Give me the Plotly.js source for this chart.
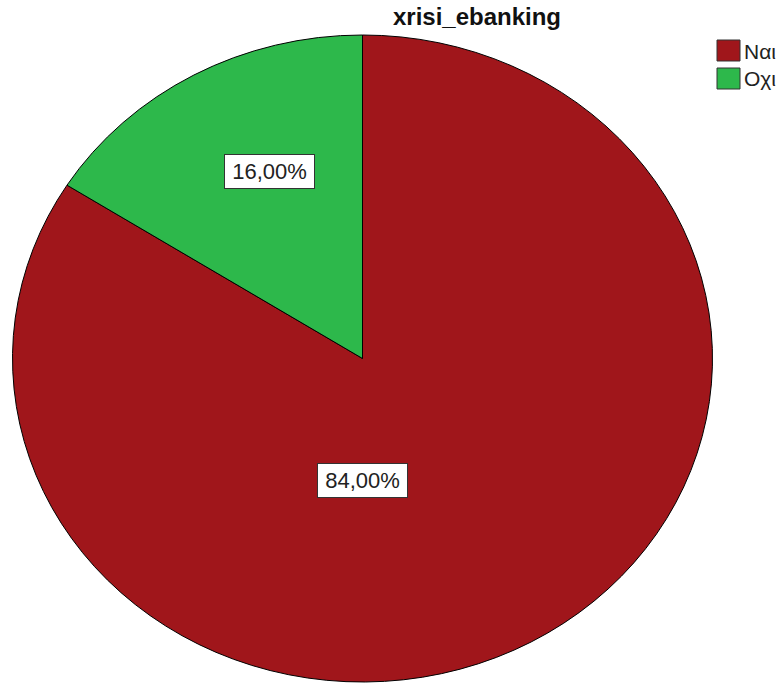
<!DOCTYPE html>
<html>
<head>
<meta charset="utf-8">
<script src="https://cdn.plot.ly/plotly-3.0.1.min.js"></script>
<style>html,body{margin:0;padding:0;background:#fff;}#chart{width:781px;height:684px;}</style>
</head>
<body>
<div id="chart"></div>
<script>
// ---- data ----
const title = 'xrisi_ebanking';
const labels = ['Ναι', 'Οχι'];
const percents = [84.00, 16.00];
const colors = ['#A0161B', '#2DB84B'];

// ---- helpers (layout positions in pixels -> paper) ----
const W = 781, H = 684;
const px = x => x / W;
const py = y => 1 - y / H;

const fmt = v => v.toFixed(2).replace('.', ',') + '%';

// ellipse geometry of the reference pie
const CX = 362.5, CY = 358.5, RX = 350, RY = 323.5;

const data = [{
  type: 'pie',
  labels: labels,
  values: percents,
  sort: false,
  direction: 'clockwise',
  rotation: 0,
  textinfo: 'none',
  hoverinfo: 'none',
  showlegend: false,
  marker: { colors: colors, line: { color: '#000000', width: 1 } },
  domain: { x: [px(CX - RY), px(CX + RY)], y: [py(CY + RY), py(CY - RY)] }
}];

const labelPos = [[362, 480], [269, 171]];
const annotations = labels.map((l, i) => ({
  xref: 'paper', yref: 'paper',
  x: px(labelPos[i][0]), y: py(labelPos[i][1]),
  xanchor: 'center', yanchor: 'middle',
  text: fmt(percents[i]), showarrow: false,
  font: { family: 'Liberation Sans, Arial, sans-serif', size: 22, color: '#222' },
  bgcolor: '#ffffff', bordercolor: '#333333', borderwidth: 1,
  width: 89, height: 33, borderpad: 0
}));

// legend built from labels/colors
const legTop = [40, 68];
const shapes = [];
labels.forEach((l, i) => {
  shapes.push({
    type: 'rect', xref: 'paper', yref: 'paper',
    x0: px(717), x1: px(740), y0: py(legTop[i]), y1: py(legTop[i] + 21),
    fillcolor: colors[i], line: { color: '#333333', width: 1 }
  });
  annotations.push({
    xref: 'paper', yref: 'paper', x: px(742), y: py(legTop[i] + 11),
    xanchor: 'left', yanchor: 'middle', text: l, showarrow: false,
    font: { family: 'Liberation Sans, Arial, sans-serif', size: 21, color: '#222' }
  });
});

const layout = {
  width: W, height: H,
  margin: { l: 0, r: 0, t: 0, b: 0 },
  paper_bgcolor: '#ffffff',
  showlegend: false,
  title: {
    text: '<b>' + title + '</b>',
    x: px(477), xanchor: 'center', xref: 'paper',
    y: py(17), yanchor: 'middle', yref: 'container',
    font: { family: 'Liberation Sans, Arial, sans-serif', size: 24, color: '#111' }
  },
  shapes: shapes,
  annotations: annotations
};

const gd = document.getElementById('chart');
Plotly.newPlot(gd, data, layout, { staticPlot: true, displayModeBar: false }).then(() => {
  const tr = gd.querySelector('.pielayer .trace');
  if (tr) {
    const cd0 = gd.calcdata[0][0];
    const cx = cd0.cx, cy = cd0.cy;
    const sx = RX / RY;
    tr.setAttribute('transform', `translate(${cx},${cy}) scale(${sx},1) translate(${-cx},${-cy})`);
    tr.querySelectorAll('path').forEach(p => p.setAttribute('vector-effect', 'non-scaling-stroke'));
  }
});
</script>
</body>
</html>
